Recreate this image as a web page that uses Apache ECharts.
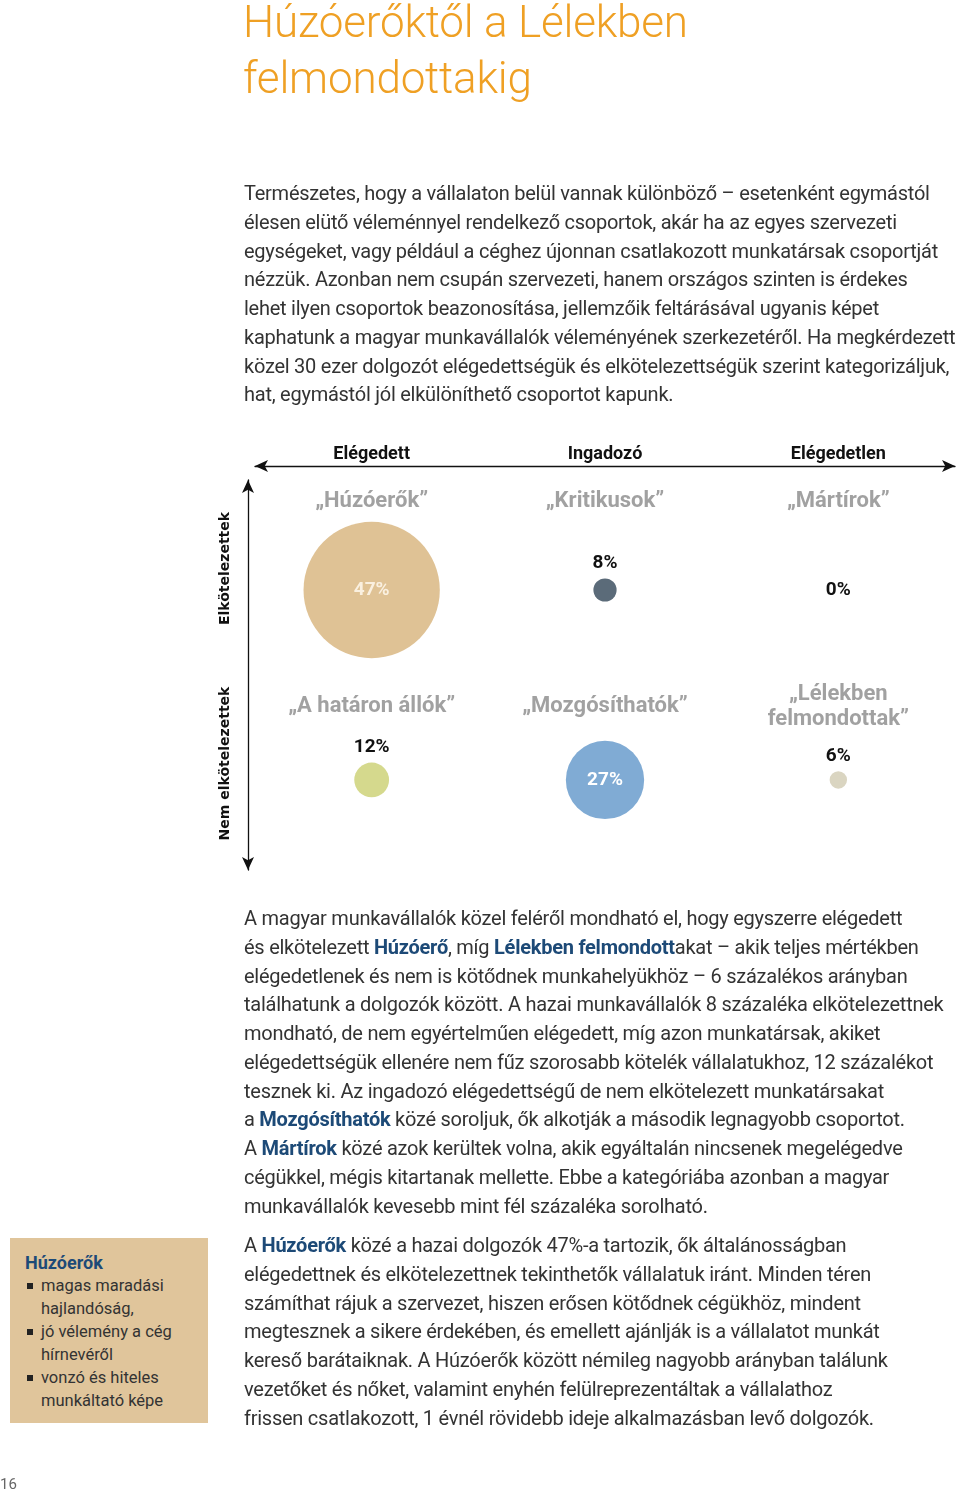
<!DOCTYPE html>
<html>
<head>
<meta charset="utf-8">
<script src="https://cdn.jsdelivr.net/npm/echarts@6/dist/echarts.min.js"></script>
<style>
  html, body { margin:0; padding:0; background:#fff; }
  #page { position:relative; width:960px; height:1492px; overflow:hidden; }
  #chart { position:absolute; left:0; top:0; width:960px; height:1492px; }
  .txt { position:absolute; font-family:Roboto, "Noto Sans", sans-serif; color:#333; pointer-events:none; }
  #title { left:243px; top:-6px; font-size:44px; line-height:56px; font-weight:300; color:#efa024; letter-spacing:-0.2px; }
  .body { left:244px; font-size:20px; line-height:28.75px; letter-spacing:-0.25px; white-space:nowrap; }
  #p1 { top:179px; }
  #p2 { top:904px; }
  #p3 { top:1231px; }
  .b { font-weight:700; color:#1d4a77; }
  #box { position:absolute; left:10px; top:1238px; width:198px; height:185px; background:#e0c59b; }
  #boxtxt { left:25px; top:1251px; font-size:16.5px; line-height:23px; white-space:nowrap; }
  #boxtxt .h { font-weight:700; color:#1d4a77; font-size:18px; }
  #boxtxt .li { position:relative; padding-left:16px; }
  #boxtxt .li::before { content:""; position:absolute; left:2px; top:9px; width:6px; height:6px; background:#222; }
  #pnum { left:0px; top:1475px; font-size:15px; color:#666; }
</style>
</head>
<body>
<div id="page">
  <div id="chart"></div>
  <div id="title" class="txt">Húzóerőktől a Lélekben<br>felmondottakig</div>
  <div id="p1" class="txt body">Természetes, hogy a vállalaton belül vannak különböző – esetenként egymástól<br>élesen elütő véleménnyel rendelkező csoportok, akár ha az egyes szervezeti<br>egységeket, vagy például a céghez újonnan csatlakozott munkatársak csoportját<br>nézzük. Azonban nem csupán szervezeti, hanem országos szinten is érdekes<br>lehet ilyen csoportok beazonosítása, jellemzőik feltárásával ugyanis képet<br>kaphatunk a magyar munkavállalók véleményének szerkezetéről. Ha megkérdezett<br>közel 30 ezer dolgozót elégedettségük és elkötelezettségük szerint kategorizáljuk,<br>hat, egymástól jól elkülöníthető csoportot kapunk.</div>
  <div id="p2" class="txt body">A magyar munkavállalók közel feléről mondható el, hogy egyszerre elégedett<br>és elkötelezett <span class="b">Húzóerő</span>, míg <span class="b">Lélekben felmondott</span>akat – akik teljes mértékben<br>elégedetlenek és nem is kötődnek munkahelyükhöz – 6 százalékos arányban<br>találhatunk a dolgozók között. A hazai munkavállalók 8 százaléka elkötelezettnek<br>mondható, de nem egyértelműen elégedett, míg azon munkatársak, akiket<br>elégedettségük ellenére nem fűz szorosabb kötelék vállalatukhoz, 12 százalékot<br>tesznek ki. Az ingadozó elégedettségű de nem elkötelezett munkatársakat<br>a <span class="b">Mozgósíthatók</span> közé soroljuk, ők alkotják a második legnagyobb csoportot.<br>A <span class="b">Mártírok</span> közé azok kerültek volna, akik egyáltalán nincsenek megelégedve<br>cégükkel, mégis kitartanak mellette. Ebbe a kategóriába azonban a magyar<br>munkavállalók kevesebb mint fél százaléka sorolható.</div>
  <div id="p3" class="txt body">A <span class="b">Húzóerők</span> közé a hazai dolgozók 47%-a tartozik, ők általánosságban<br>elégedettnek és elkötelezettnek tekinthetők vállalatuk iránt. Minden téren<br>számíthat rájuk a szervezet, hiszen erősen kötődnek cégükhöz, mindent<br>megtesznek a sikere érdekében, és emellett ajánlják is a vállalatot munkát<br>kereső barátaiknak. A Húzóerők között némileg nagyobb arányban találunk<br>vezetőket és nőket, valamint enyhén felülreprezentáltak a vállalathoz<br>frissen csatlakozott, 1 évnél rövidebb ideje alkalmazásban levő dolgozók.</div>
  <div id="box"></div>
  <div id="boxtxt" class="txt"><div class="h">Húzóerők</div><div class="li">magas maradási<br>hajlandóság,</div><div class="li">jó vélemény a cég<br>hírnevéről</div><div class="li">vonzó és hiteles<br>munkáltató képe</div></div>
  <div id="pnum" class="txt">16</div>
</div>
<script>
// ---- data ----
const satisfaction = ['Elégedett', 'Ingadozó', 'Elégedetlen'];
const commitment = ['Nem elkötelezettek', 'Elkötelezettek'];
const groupNames = ['„Húzóerők”', '„Kritikusok”', '„Mártírok”', '„A határon állók”', '„Mozgósíthatók”', '„Lélekben\nfelmondottak”'];
const groupSatisfaction = [0, 1, 2, 0, 1, 2];
const groupCommitment = [1, 1, 1, 0, 0, 0];
const groupShares = [47, 8, 0, 12, 27, 6];
const groupColors = ['#dfc295', '#5b6b79', '#cccccc', '#d5d98d', '#80abd4', '#dad5c1'];

const labelFont = '"Roboto", sans-serif';

const bubbleData = groupShares.map((s, i) => {
  const big = s >= 20;
  return {
    value: [groupSatisfaction[i], groupCommitment[i], s],
    itemStyle: { color: groupColors[i], opacity: 1 },
    label: big
      ? { position: 'inside', color: i === 0 ? '#faf0e0' : '#ffffff' }
      : (s === 0 ? { position: 'inside', color: '#111' } : { position: 'top', distance: 6, color: '#111' })
  };
});

const nameData = groupNames.map((n, i) => ({
  value: [groupSatisfaction[i], groupCommitment[i]],
  name: n,
  label: { offset: [0, groupCommitment[i] === 1 ? -88 : -73] }
}));

const chart = echarts.init(document.getElementById('chart'), null, { renderer: 'canvas' });
chart.setOption({
  animation: false,
  backgroundColor: 'transparent',
  grid: { left: 255, right: 5, top: 480, bottom: 622 },
  xAxis: [{
    type: 'category',
    data: satisfaction,
    position: 'top',
    offset: 14,
    axisLine: { show: true, onZero: false, symbol: ['arrow', 'arrow'], symbolSize: [9, 13], lineStyle: { color: '#111', width: 1.3 } },
    axisTick: { show: false },
    splitLine: { show: false },
    axisLabel: { margin: 3, fontSize: 18, fontWeight: 'bold', color: '#111', fontFamily: labelFont }
  }],
  yAxis: [{
    type: 'category',
    data: commitment,
    position: 'left',
    offset: 7,
    axisLine: { show: true, onZero: false, symbol: ['arrow', 'arrow'], symbolSize: [9, 13], lineStyle: { color: '#111', width: 1.3 } },
    axisTick: { show: false },
    splitLine: { show: false },
    axisLabel: {
      interval: 0,
      hideOverlap: false,
      rotate: 90, margin: 16, fontSize: 14, fontWeight: 'bold', color: '#111',
      fontFamily: '"DejaVu Sans", sans-serif',
      padding: [0, 0, 0, 18]
    }
  }, {
    type: 'value',
    show: false,
    min: -0.474,
    max: 1.579
  }],
  series: [{
    type: 'scatter',
    yAxisIndex: 1,
    data: bubbleData,
    symbol: 'circle',
    symbolSize: v => v[2] * 2.9,
    label: {
      show: true,
      formatter: p => p.value[2] + '%',
      fontSize: 19, fontWeight: 'bold', fontFamily: labelFont
    },
    emphasis: { disabled: true }
  }, {
    type: 'scatter',
    yAxisIndex: 1,
    data: nameData,
    symbolSize: 0,
    label: {
      show: true,
      position: 'inside',
      formatter: p => p.name,
      fontSize: 22, fontWeight: 'bold', color: '#8a8a8a', lineHeight: 25,
      fontFamily: labelFont
    },
    emphasis: { disabled: true }
  }]
});
</script>
</body>
</html>
